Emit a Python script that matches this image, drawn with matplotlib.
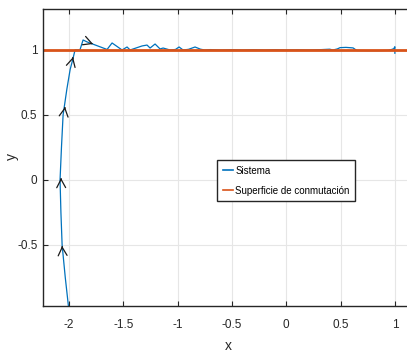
import numpy as np
import matplotlib.pyplot as plt

# trayectoria del sistema (x, y)
sis_x = [-2.006, -2.035, -2.064, -2.075, -2.083, -2.07, -2.055, -2.02, -1.99, -1.965,
         -1.945, -1.92, -1.90, -1.871, -1.834, -1.650, -1.604, -1.512, -1.466, -1.438,
         -1.328, -1.282, -1.254, -1.208, -1.162, -1.134, -1.070, -1.02, -0.987, -0.95,
         -0.90, -0.84, -0.79, -0.75, -0.70, -0.60, -0.50, -0.40, -0.30, -0.20, -0.10,
         0.0, 0.10, 0.20, 0.30, 0.35, 0.40, 0.43, 0.47, 0.495, 0.55, 0.615, 0.65,
         0.75, 0.85, 0.94, 0.974, 0.99, 1.0, 1.0]
sis_y = [-0.97, -0.75, -0.5, -0.25, 0.0, 0.25, 0.5, 0.7, 0.85, 0.93,
         1.0, 1.0, 1.0, 1.077, 1.062, 1.004, 1.054, 1.0, 1.023, 1.0,
         1.031, 1.038, 1.015, 1.046, 1.008, 1.015, 1.0, 1.004, 1.023, 1.0,
         1.005, 1.023, 1.006, 1.0, 1.003, 1.0, 1.002, 1.0, 1.002, 1.0, 1.002,
         1.0, 1.001, 1.0, 1.002, 1.004, 1.006, 1.0, 1.008, 1.018, 1.02, 1.016, 0.996,
         0.995, 0.995, 0.997, 1.005, 1.01, 1.025, 0.975]

# superficie de conmutacion y = 1
sup_x = [-2.4, 1.3]
sup_y = [1.0, 1.0]

# flechas de direccion (punta y direccion)
fl_x = [-2.064, -2.074, -2.037, -1.963, -1.779]
fl_y = [-0.508, 0.015, 0.562, 0.946, 1.046]
fl_u = [-0.03, -0.005, 0.035, 0.045, 0.184]
fl_v = [0.47, 0.25, 0.2, 0.15, -0.058]

xticks = [-2, -1.5, -1, -0.5, 0, 0.5, 1]
xtick_labels = ['-2', '-1.5', '-1', '-0.5', '0', '0.5', '1']
yticks = [-0.5, 0, 0.5, 1]
ytick_labels = ['-0.5', '0', '0.5', '1']

plt.rcParams['font.family'] = ['Liberation Sans', 'DejaVu Sans']

fig = plt.figure(figsize=(4.07, 3.54), dpi=100)
ax = fig.add_axes([43/407, 48/354, 369/407, 297/354])

ax.grid(True, color='#e6e6e6', lw=0.8)
ax.set_axisbelow(True)

ax.plot(sis_x, sis_y, color='#0072BD', lw=0.9, label='Sistema')
ax.plot(sup_x, sup_y, color='#D95319', lw=2.0, label='Superficie de conmutación')

for x, y, u, v in zip(fl_x, fl_y, fl_u, fl_v):
    n = np.hypot(u / 3.4, v / 2.3)
    eps = 0.004 / n
    ax.annotate('', xy=(x, y), xytext=(x - u * eps, y - v * eps),
                arrowprops=dict(arrowstyle='->,head_length=0.6,head_width=0.32',
                                color='#1a1a1a', lw=0.9, shrinkA=0, shrinkB=0))

ax.set_xlim(-2.24, -2.24 + 369/108.6)
ax.set_ylim(-0.97, 1.0 + 41/130)
ax.set_xticks(xticks)
ax.set_xticklabels(xtick_labels)
ax.set_yticks(yticks)
ax.set_yticklabels(ytick_labels)

for s in ax.spines.values():
    s.set_color('#262626')
    s.set_linewidth(1.0)
ax.tick_params(direction='in', length=3.5, width=0.8, color='#262626',
               labelcolor='#262626', labelsize=8.5, top=True, right=True)
ax.tick_params(axis='x', pad=9)
ax.tick_params(axis='y', pad=4)

ax.set_xlabel('x', fontsize=10, color='#262626')
ax.set_ylabel('y', fontsize=10, color='#262626')
ax.xaxis.set_label_coords((228 - 43) / 369, -(339 - 306) / 297)
ax.yaxis.set_label_coords(-(43 - 19) / 369, (306 - 157) / 297)

leg = ax.legend(loc='lower left', bbox_to_anchor=(0.472, 0.354), fontsize=7,
                handlelength=1.1, handletextpad=0.2, borderpad=0.55,
                labelspacing=1.0, borderaxespad=0, fancybox=False, framealpha=1)
leg.get_frame().set_edgecolor('#262626')
leg.get_frame().set_linewidth(1.0)
for h in leg.get_lines():
    h.set_linewidth(1.2)

fig.savefig('out.png', dpi=100)
